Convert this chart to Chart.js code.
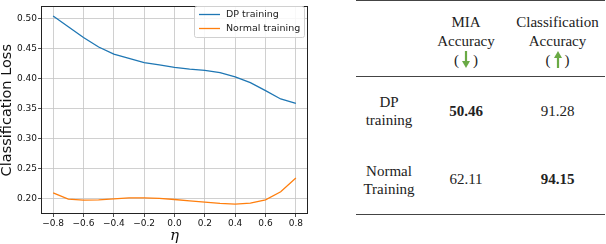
<!DOCTYPE html>
<html>
<head>
<meta charset="utf-8">
<script src="https://cdn.jsdelivr.net/npm/chart.js@4.4.1/dist/chart.umd.min.js"></script>
<style>
  body { margin: 0; background: #fff; }
  #wrap { position: relative; width: 606px; height: 244px; background: #fff; overflow: hidden; }
  #lossChart { position: absolute; left: 0; top: 0; }
  #results {
    position: absolute; left: 356px; top: 0; width: 249px;
    border-collapse: collapse;
    font-family: "Liberation Serif", "Times New Roman", serif;
    font-size: 15px; color: #222; text-align: center;
  }
  #results thead tr { height: 76px; border-top: 1px solid #444; border-bottom: 1px solid #444; }
  #results tbody tr { height: 69px; }
  #results tbody tr:last-child { border-bottom: 1px solid #444; }
  #results th { font-weight: normal; line-height: 19px; padding: 5px 0 0 0; vertical-align: middle; }
  #results td { padding: 0; vertical-align: middle; }
  #results td.method { line-height: 18px; }
  .paren { display: inline-block; margin: 0 1px; }
  .arrow { display: inline-block; vertical-align: -3px; margin: 0 2px; }
</style>
</head>
<body>
<div id="wrap">
  <canvas id="lossChart" width="320" height="244"></canvas>
  <table id="results">
    <thead><tr id="headRow"></tr></thead>
    <tbody id="bodyRows"></tbody>
  </table>
</div>
<script>
// --- DADOS DO GRÁFICO ---
const eta = [-0.8, -0.7, -0.6, -0.5, -0.4, -0.3, -0.2, -0.1, 0.0, 0.1, 0.2, 0.3, 0.4, 0.5, 0.6, 0.7, 0.8];
const dpLoss = [0.505, 0.487, 0.469, 0.453, 0.441, 0.434, 0.427, 0.423, 0.419, 0.416, 0.414, 0.410, 0.403, 0.3935, 0.380, 0.366, 0.3587];
const normalLoss = [0.209, 0.1984, 0.1967, 0.1972, 0.1989, 0.2004, 0.2004, 0.1995, 0.1978, 0.1956, 0.1934, 0.1913, 0.1901, 0.1918, 0.1973, 0.2108, 0.2336];
const etaTicks = [-0.8, -0.6, -0.4, -0.2, 0.0, 0.2, 0.4, 0.6, 0.8];
const lossTicks = [0.20, 0.25, 0.30, 0.35, 0.40, 0.45, 0.50];

// --- DADOS DA TABELA ---
const metricNames = [['MIA', 'Accuracy'], ['Classification', 'Accuracy']];
const metricDirections = ['down', 'up'];
const methodNames = [['DP', 'training'], ['Normal', 'Training']];
const miaAccuracy = [50.46, 62.11];
const classAccuracy = [91.28, 94.15];

// --- TABELA ---
function arrowSvg(dir) {
    const shaft = dir === 'down' ? '<rect x="2.9" y="0" width="2.2" height="11"/><polygon points="0,10 8,10 4,17"/>'
                                 : '<rect x="2.9" y="6" width="2.2" height="11"/><polygon points="0,7 8,7 4,0"/>';
    return '<svg class="arrow" width="8" height="17" viewBox="0 0 8 17" fill="#6aaa45">' + shaft + '</svg>';
}

const headRow = document.getElementById('headRow');
headRow.innerHTML = '<th style="width:66px"></th>' + metricNames.map((name, i) =>
    '<th style="width:' + (i === 0 ? 88 : 95) + 'px">' + name.join('<br>') +
    '<br><span class="paren">(</span>' + arrowSvg(metricDirections[i]) + '<span class="paren">)</span></th>'
).join('');

const bestMia = Math.min(...miaAccuracy);
const bestClass = Math.max(...classAccuracy);
document.getElementById('bodyRows').innerHTML = methodNames.map((name, i) => {
    const mia = miaAccuracy[i] === bestMia ? '<b>' + miaAccuracy[i].toFixed(2) + '</b>' : miaAccuracy[i].toFixed(2);
    const cls = classAccuracy[i] === bestClass ? '<b>' + classAccuracy[i].toFixed(2) + '</b>' : classAccuracy[i].toFixed(2);
    return '<tr><td class="method">' + name.join('<br>') + '</td><td>' + mia + '</td><td>' + cls + '</td></tr>';
}).join('');

// --- GRÁFICO ---
const fmtMinus = (v, d) => (v < 0 ? '\u2212' : '') + Math.abs(v).toFixed(d);

const framePlugin = {
    id: 'frame',
    afterDatasetsDraw(chart) {
        const { ctx, chartArea: a } = chart;
        ctx.save();
        ctx.strokeStyle = '#222';
        ctx.lineWidth = 1;
        ctx.strokeRect(Math.round(a.left) + 0.5, Math.round(a.top) + 0.5,
                       Math.round(a.right - a.left) - 1, Math.round(a.bottom - a.top) - 1);
        ctx.restore();
    }
};

const innerLegend = {
    id: 'innerLegend',
    afterDraw(chart) {
        const ctx = chart.ctx;
        ctx.save();
        ctx.beginPath();
        ctx.roundRect(194.5, 6.5, 110, 31, 2);
        ctx.fillStyle = 'rgba(255,255,255,0.85)';
        ctx.fill();
        ctx.strokeStyle = '#d0d0d0';
        ctx.lineWidth = 1;
        ctx.stroke();
        ctx.font = '9.5px "DejaVu Sans"';
        ctx.textBaseline = 'middle';
        chart.data.datasets.forEach((ds, i) => {
            const y = 14.5 + 14 * i;
            ctx.strokeStyle = ds.borderColor;
            ctx.lineWidth = 1.3;
            ctx.beginPath();
            ctx.moveTo(199, y);
            ctx.lineTo(220, y);
            ctx.stroke();
            ctx.fillStyle = '#222';
            ctx.fillText(ds.label, 226, y + 0.5);
        });
        ctx.restore();
    }
};

new Chart(document.getElementById('lossChart'), {
    type: 'line',
    data: {
        datasets: [
            { label: 'DP training', data: eta.map((x, i) => ({ x, y: dpLoss[i] })), borderColor: '#1f77b4' },
            { label: 'Normal training', data: eta.map((x, i) => ({ x, y: normalLoss[i] })), borderColor: '#ff7f0e' }
        ]
    },
    options: {
        responsive: false,
        devicePixelRatio: 1,
        animation: false,
        layout: { padding: { top: 1, right: 12, left: 0, bottom: 0 } },
        elements: {
            line: { borderWidth: 1.3, tension: 0, fill: false },
            point: { radius: 0 }
        },
        plugins: { legend: { display: false }, tooltip: { enabled: false } },
        scales: {
            x: {
                type: 'linear',
                min: -0.88,
                max: 0.88,
                afterBuildTicks: scale => { scale.ticks = etaTicks.map(v => ({ value: v })); },
                afterFit: scale => { scale.height = 30; },
                grid: { color: '#c4c4c4', lineWidth: 0.8, tickColor: '#222', tickLength: 3 },
                border: { display: false },
                ticks: {
                    autoSkip: false, maxRotation: 0, padding: 1, color: '#111',
                    font: { family: 'DejaVu Sans', size: 9 },
                    callback: v => fmtMinus(v, 1)
                },
                title: {
                    display: true, text: 'η', color: '#111', padding: { top: -5, bottom: 0 },
                    font: { family: 'DejaVu Serif', size: 15, style: 'italic', lineHeight: 1 }
                }
            },
            y: {
                min: 0.1735,
                max: 0.521,
                afterBuildTicks: scale => { scale.ticks = lossTicks.map(v => ({ value: v })); },
                afterFit: scale => { scale.width = 41; },
                grid: { color: '#c4c4c4', lineWidth: 0.8, tickColor: '#222', tickLength: 3 },
                border: { display: false },
                ticks: {
                    padding: 1, color: '#111',
                    font: { family: 'DejaVu Sans', size: 9 },
                    callback: v => fmtMinus(v, 2)
                },
                title: {
                    display: true, text: 'Classification Loss', color: '#111', padding: 0,
                    font: { family: 'DejaVu Sans', size: 14.5, lineHeight: 1 }
                }
            }
        }
    },
    plugins: [framePlugin, innerLegend]
});
</script>
</body>
</html>
